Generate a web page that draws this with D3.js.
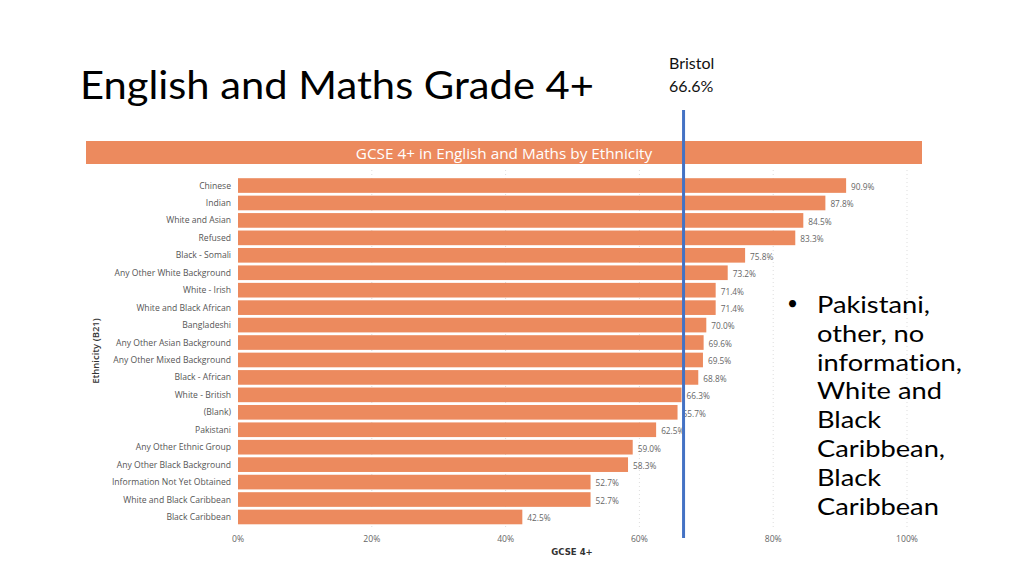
<!DOCTYPE html>
<html><head><meta charset="utf-8">
<script src="https://cdn.jsdelivr.net/npm/d3@7"></script>
<style>body{margin:0;background:#fff}svg{display:block}text{font-variant-ligatures:none;font-feature-settings:"liga" 0}</style>
</head><body>
<svg id="c" width="1024" height="576"></svg>
<script>
const categories = ["Chinese","Indian","White and Asian","Refused","Black - Somali","Any Other White Background","White - Irish","White and Black African","Bangladeshi","Any Other Asian Background","Any Other Mixed Background","Black - African","White - British","(Blank)","Pakistani","Any Other Ethnic Group","Any Other Black Background","Information Not Yet Obtained","White and Black Caribbean","Black Caribbean"];
const values = [90.9,87.8,84.5,83.3,75.8,73.2,71.4,71.4,70.0,69.6,69.5,68.8,66.3,65.7,62.5,59.0,58.3,52.7,52.7,42.5];
const xTicks = [0,20,40,60,80,100];
const bristol = 66.6;
const bulletLines = ["Pakistani,","other, no","information,","White and","Black","Caribbean,","Black","Caribbean"];

const svg = d3.select("#c");
const orange = "#EC8A5E";
const x = d3.scaleLinear().domain([0,100]).range([238,907]);
const y = d3.scaleBand().domain(categories).range([177.5,525]).paddingInner(0.16).paddingOuter(0.04);

// Slide title
svg.append("text").attr("x",80).attr("y",99).attr("font-family","Lato, sans-serif")
  .attr("font-size",39).attr("fill","#000").attr("textLength",514).attr("lengthAdjust","spacingAndGlyphs")
  .text("English and Maths Grade 4+");

// Header bar
svg.append("rect").attr("x",86).attr("y",141).attr("width",836).attr("height",23).attr("fill",orange);
svg.append("text").attr("x",504).attr("y",158.5).attr("text-anchor","middle").attr("fill","#fff")
  .attr("font-family","Open Sans, sans-serif").attr("font-size",15.3).text("GCSE 4+ in English and Maths by Ethnicity");

// gridlines
svg.append("g").selectAll("line").data(xTicks.filter(d=>d>0)).join("line")
  .attr("x1",d=>x(d)).attr("x2",d=>x(d)).attr("y1",170).attr("y2",528)
  .attr("stroke","#ddd").attr("stroke-width",1).attr("stroke-dasharray","1,3");

// bars
svg.append("g").selectAll("rect").data(categories).join("rect")
  .attr("x",x(0)).attr("y",d=>y(d)).attr("height",y.bandwidth())
  .attr("width",(d,i)=>x(values[i])-x(0)).attr("fill",orange);

// category labels
svg.append("g").selectAll("text").data(categories).join("text")
  .attr("x",231).attr("y",d=>y(d)+y.bandwidth()/2).attr("dy","0.35em").attr("text-anchor","end")
  .attr("font-family","Open Sans, sans-serif").attr("font-size",8.6).attr("fill","#555").text(d=>d);

// value labels
svg.append("g").selectAll("text").data(categories).join("text")
  .attr("x",(d,i)=>x(values[i])+5).attr("y",d=>y(d)+y.bandwidth()/2+1.5).attr("dy","0.35em")
  .attr("font-family","Open Sans, sans-serif").attr("font-size",8.3).attr("fill","#666")
  .text((d,i)=>values[i].toFixed(1)+"%");

// x tick labels
svg.append("g").selectAll("text").data(xTicks).join("text")
  .attr("x",d=>x(d)).attr("y",542).attr("text-anchor","middle")
  .attr("font-family","Open Sans, sans-serif").attr("font-size",8.6).attr("fill","#666").text(d=>d+"%");

// axis titles
svg.append("text").attr("x",572).attr("y",555).attr("text-anchor","middle")
  .attr("font-family","DejaVu Sans Condensed, sans-serif").attr("font-weight","bold").attr("font-size",9.5).attr("fill","#333").text("GCSE 4+");
svg.append("text").attr("transform","translate(99,351) rotate(-90)").attr("text-anchor","middle")
  .attr("font-family","Open Sans, sans-serif").attr("font-weight","600").attr("font-size",9.5).attr("fill","#333").text("Ethnicity (B21)");

// Bristol line
svg.append("line").attr("x1",x(bristol)).attr("x2",x(bristol)).attr("y1",110).attr("y2",538)
  .attr("stroke","#4472C4").attr("stroke-width",3);
svg.append("text").attr("x",669).attr("y",69).attr("font-family","Lato, sans-serif").attr("font-size",16).attr("fill","#111").text("Bristol");
svg.append("text").attr("x",669).attr("y",92).attr("font-family","Lato, sans-serif").attr("font-size",16).attr("fill","#111").text(bristol.toFixed(1)+"%");

// Bullet text
svg.append("text").attr("x",787).attr("y",310).attr("font-family","Lato, sans-serif").attr("font-size",19).attr("fill","#000").text("•");
svg.append("g").attr("transform","translate(817,0) scale(1.16,1)").selectAll("text").data(bulletLines).join("text")
  .attr("x",0).attr("y",(d,i)=>313+i*28.8).attr("font-family","Lato, sans-serif").attr("font-size",23.5).attr("fill","#000").text(d=>d);
</script>
</body></html>
